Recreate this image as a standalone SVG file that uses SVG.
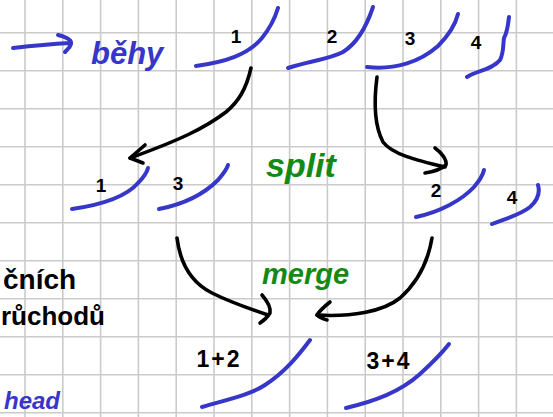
<svg xmlns="http://www.w3.org/2000/svg" width="553" height="417" viewBox="0 0 553 417">
  <style>
    .grid line { stroke: #cbcbcb; stroke-width: 1.6; }
    .run { fill: none; stroke: #3636c8; stroke-width: 4; stroke-linecap: round; stroke-linejoin: round; }
    .ink { fill: none; stroke: #000; stroke-width: 3.6; stroke-linecap: round; stroke-linejoin: round; }
    .lbl { font-family: "Liberation Sans", Arial, sans-serif; font-weight: bold; font-size: 19px; fill: #000; text-anchor: middle; }
    .sum { font-size: 23px; letter-spacing: 2px; }
    .hand { font-family: "Liberation Sans", Arial, sans-serif; font-weight: bold; }
    .slant { font-style: italic; }
    .green { fill: #138a13; }
    .blue { fill: #3636c8; }
  </style>

  <rect width="553" height="417" fill="#ffffff"/>

  <!-- squared paper -->
  <g class="grid">
    <line x1="25" y1="0" x2="25" y2="417"/>
    <line x1="62.8" y1="0" x2="62.8" y2="417"/>
    <line x1="100.6" y1="0" x2="100.6" y2="417"/>
    <line x1="138.4" y1="0" x2="138.4" y2="417"/>
    <line x1="176.2" y1="0" x2="176.2" y2="417"/>
    <line x1="214" y1="0" x2="214" y2="417"/>
    <line x1="251.8" y1="0" x2="251.8" y2="417"/>
    <line x1="289.6" y1="0" x2="289.6" y2="417"/>
    <line x1="327.4" y1="0" x2="327.4" y2="417"/>
    <line x1="365.2" y1="0" x2="365.2" y2="417"/>
    <line x1="403" y1="0" x2="403" y2="417"/>
    <line x1="440.8" y1="0" x2="440.8" y2="417"/>
    <line x1="478.6" y1="0" x2="478.6" y2="417"/>
    <line x1="516.4" y1="0" x2="516.4" y2="417"/>
    <line x1="0" y1="32.7" x2="553" y2="32.7"/>
    <line x1="0" y1="70.7" x2="553" y2="70.7"/>
    <line x1="0" y1="108.7" x2="553" y2="108.7"/>
    <line x1="0" y1="146.7" x2="553" y2="146.7"/>
    <line x1="0" y1="184.7" x2="553" y2="184.7"/>
    <line x1="0" y1="222.7" x2="553" y2="222.7"/>
    <line x1="0" y1="260.7" x2="553" y2="260.7"/>
    <line x1="0" y1="298.7" x2="553" y2="298.7"/>
    <line x1="0" y1="336.7" x2="553" y2="336.7"/>
    <line x1="0" y1="374.7" x2="553" y2="374.7"/>
    <line x1="0" y1="412.7" x2="553" y2="412.7"/>
  </g>

  <!-- heading: arrow + word -->
  <g id="heading">
    <path class="run" d="M13,48 C30,46 50,44 70,43 M58,35 C66,37 72,40 71,44 C70,48 67,50 65,52"/>
    <text class="hand slant blue" x="91" y="64" font-size="31">běhy</text>
  </g>

  <!-- input runs -->
  <g id="run-1">
    <path class="run" d="M196,66 C225,62 248,55 262,38 C270,28 275,18 278,8"/>
    <text class="lbl" x="236" y="43">1</text>
  </g>
  <g id="run-2">
    <path class="run" d="M288,68 C310,61 330,59 343,52 C356,44 366,28 373,7"/>
    <text class="lbl" x="332" y="43">2</text>
  </g>
  <g id="run-3">
    <path class="run" d="M367,67 C395,70 420,62 438,46 C448,36 455,26 458,14"/>
    <text class="lbl" x="410" y="45">3</text>
  </g>
  <g id="run-4">
    <path class="run" d="M467,77 C478,70 492,70 500,60 C504,52 503,44 504,38 C507,33 508,26 509,17"/>
    <text class="lbl" x="476" y="49">4</text>
  </g>

  <!-- after split -->
  <g id="split-label">
    <text class="hand slant green" x="266" y="177" font-size="34">split</text>
  </g>
  <g id="part-1">
    <path class="run" d="M72,209 C100,205 125,198 138,183 C144,177 147,172 148,168"/>
    <text class="lbl" x="101" y="192">1</text>
  </g>
  <g id="part-3">
    <path class="run" d="M159,209 C185,204 205,193 218,180 C224,173 227,169 228,165"/>
    <text class="lbl" x="178" y="190">3</text>
  </g>
  <g id="part-2">
    <path class="run" d="M416,217 C440,212 462,200 474,187 C480,180 483,175 484,170"/>
    <text class="lbl" x="436" y="197">2</text>
  </g>
  <g id="part-4">
    <path class="run" d="M492,224 C505,219 520,215 530,207 C538,200 540,192 538,185"/>
    <text class="lbl" x="512" y="204">4</text>
  </g>

  <!-- after merge -->
  <g id="merge-label">
    <text class="hand slant green" x="262" y="284" font-size="29">merge</text>
  </g>
  <g id="merged-12">
    <path class="run" d="M202,407 C225,400 250,395 265,385 C285,372 298,356 310,340"/>
    <text class="lbl sum" x="219" y="367">1+2</text>
  </g>
  <g id="merged-34">
    <path class="run" d="M346,408 C375,401 400,392 420,374 C432,363 442,353 449,344"/>
    <text class="lbl sum" x="389" y="369">3+4</text>
  </g>

  <!-- margin notes -->
  <g id="notes">
    <text class="hand" x="3" y="289" font-size="28" fill="#000">čních</text>
    <text class="hand" x="1" y="325" font-size="26" fill="#000">růchodů</text>
    <text class="hand slant blue" x="4" y="409" font-size="24">head</text>
  </g>

  <!-- connectors -->
  <g id="connectors">
    <path class="ink" d="M251,68 C246,90 238,102 226,112 C205,128 180,140 130,158"/>
    <path class="ink" d="M145,145 L130,158 L143,163"/>
    <path class="ink" d="M377,77 C374,100 374,125 383,142 C392,154 415,160 445,167"/>
    <path class="ink" d="M435,148 C442,153 447,160 446,165 C440,170 432,172 425,173"/>
    <path class="ink" d="M177,238 C180,262 190,282 212,293 C230,302 250,309 268,315"/>
    <path class="ink" d="M262,295 C268,302 271,308 270,313 C267,318 263,321 260,323"/>
    <path class="ink" d="M432,238 C428,262 418,282 400,298 C383,312 350,317 317,315"/>
    <path class="ink" d="M330,302 C325,306 320,310 317,315 C320,318 324,319 327,320"/>
  </g>
</svg>
